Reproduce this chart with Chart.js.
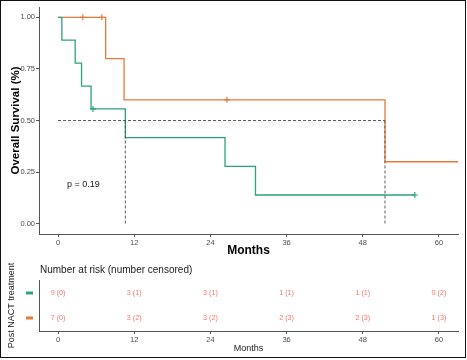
<!DOCTYPE html>
<html><head><meta charset="utf-8">
<script src="https://cdn.jsdelivr.net/npm/chart.js@4.4.1/dist/chart.umd.min.js"></script>
<style>
html,body{margin:0;padding:0;background:#fff;}
#wrap{position:relative;width:467px;height:360px;overflow:hidden;background:#fff;}
#km{position:absolute;left:0;top:0;}
#risk{position:absolute;left:0;top:260px;}
#frame{position:absolute;left:0;top:0;width:466px;height:358px;box-sizing:border-box;border:1px solid #111;pointer-events:none;}
</style></head><body>
<div id="wrap">
<canvas id="km" width="467" height="262"></canvas>
<canvas id="risk" width="467" height="100"></canvas>
<div id="frame"></div>
</div>
<script>
// ---- data ----
const xTicks = [0, 12, 24, 36, 48, 60];
const yTicks = [0, 0.25, 0.5, 0.75, 1];
const groups = ['green', 'orange'];               // strata rows of the risk table
const greenTimes = [0, 0.6, 2.7, 3.7, 5.2, 10.6, 26.3, 31.1, 56.2];
const greenSurv  = [1, 0.889, 0.778, 0.667, 0.556, 0.417, 0.278, 0.139, 0.139];
const greenCensorTimes = [5.5, 56.2];
const greenCensorSurv  = [0.556, 0.139];
const orangeTimes = [0, 7.5, 10.4, 51.5, 63];
const orangeSurv  = [1, 0.8, 0.6, 0.3, 0.3];
const orangeCensorTimes = [3.9, 6.9, 26.6];
const orangeCensorSurv  = [1, 1, 0.6];
const medianLevel = 0.5;
const medianTimes = [10.6, 51.5];
const pValueText = 'p = 0.19';
const riskTimes = [0, 12, 24, 36, 48, 60];
const greenAtRisk = [9, 3, 3, 1, 1, 0];
const greenCensored = [0, 1, 1, 1, 1, 2];
const orangeAtRisk = [7, 3, 3, 2, 2, 1];
const orangeCensored = [0, 2, 2, 3, 3, 3];

const GREEN = '#2aa37f', ORANGE = '#e97a3c', RISKTXT = '#F8766D';
const FONT = "'Liberation Sans', Arial, sans-serif";
const zip = (xs, ys) => xs.map((x, i) => ({x: x, y: ys[i]}));

// ---- KM plot ----
const pPlugin = {
  id: 'pval',
  afterDatasetsDraw(chart) {
    const {ctx, scales} = chart;
    ctx.save();
    ctx.font = '9px ' + FONT;
    ctx.fillStyle = '#1a1a1a';
    ctx.textAlign = 'center';
    ctx.textBaseline = 'middle';
    ctx.fillText(pValueText, scales.x.getPixelForValue(4), scales.y.getPixelForValue(0.19));
    ctx.restore();
  }
};

const dash = {borderColor: '#4a4a4a', borderWidth: 0.9, borderDash: [3, 2], pointRadius: 0, fill: false, type: 'line'};
new Chart(document.getElementById('km'), {
  type: 'line',
  data: {
    datasets: [
      Object.assign({data: [{x: 0, y: medianLevel}, {x: medianTimes[1], y: medianLevel}]}, dash),
      Object.assign({data: [{x: medianTimes[0], y: medianLevel}, {x: medianTimes[0], y: 0}]}, dash),
      Object.assign({data: [{x: medianTimes[1], y: medianLevel}, {x: medianTimes[1], y: 0}]}, dash),
      {type: 'scatter', data: zip(greenCensorTimes, greenCensorSurv), pointStyle: 'cross', pointRadius: 3, borderColor: GREEN, backgroundColor: GREEN, borderWidth: 1.2},
      {type: 'scatter', data: zip(orangeCensorTimes, orangeCensorSurv), pointStyle: 'cross', pointRadius: 3, borderColor: ORANGE, backgroundColor: ORANGE, borderWidth: 1.2},
      {data: zip(greenTimes, greenSurv), stepped: true, borderColor: GREEN, borderWidth: 1.3, pointRadius: 0, fill: false},
      {data: zip(orangeTimes, orangeSurv), stepped: true, borderColor: ORANGE, borderWidth: 1.3, pointRadius: 0, fill: false}
    ]
  },
  options: {
    responsive: false, animation: false, devicePixelRatio: 1,
    layout: {padding: {top: 7, right: 9, left: 0, bottom: 0}},
    plugins: {legend: {display: false}, tooltip: {enabled: false}},
    scales: {
      x: {
        type: 'linear', min: -3, max: 63,
        afterBuildTicks: s => { s.ticks = xTicks.map(v => ({value: v})); },
        afterFit: s => { s.height = 28; },
        ticks: {font: {size: 7.5, family: FONT}, color: '#4d4d4d', padding: 1, maxRotation: 0},
        grid: {display: true, drawOnChartArea: false, drawTicks: true, tickLength: 3, color: '#555'},
        border: {display: true, color: '#555', width: 1},
        title: {display: true, text: 'Months', font: {size: 12, weight: 'bold', family: FONT}, color: '#000', padding: {top: 0, bottom: 4}}
      },
      y: {
        type: 'linear', min: -0.05, max: 1.05,
        afterBuildTicks: s => { s.ticks = yTicks.map(v => ({value: v})); },
        afterFit: s => { s.width = 39; },
        ticks: {font: {size: 7.5, family: FONT}, color: '#4d4d4d', padding: 1, callback: v => Number(v).toFixed(2)},
        grid: {display: true, drawOnChartArea: false, drawTicks: true, tickLength: 3, color: '#555'},
        border: {display: true, color: '#555', width: 1},
        title: {display: true, text: 'Overall Survival (%)', font: {size: 11.5, weight: 'bold', family: FONT}, color: '#000', padding: {top: 9, bottom: 0}}
      }
    }
  },
  plugins: [pPlugin]
});

// ---- risk table ----
const riskPlugin = {
  id: 'riskText',
  afterDatasetsDraw(chart) {
    const {ctx, scales, chartArea} = chart;
    ctx.save();
    ctx.font = '10px ' + FONT;
    ctx.fillStyle = '#1a1a1a';
    ctx.textAlign = 'left';
    ctx.textBaseline = 'middle';
    ctx.fillText('Number at risk (number censored)', chartArea.left + 1, 10);
    ctx.font = '7.2px ' + FONT;
    ctx.fillStyle = RISKTXT;
    ctx.textAlign = 'center';
    chart.data.datasets.forEach((ds, di) => {
      const meta = chart.getDatasetMeta(di);
      meta.data.forEach((pt, i) => {
        ctx.fillText(ds.atRisk[i] + ' (' + ds.censored[i] + ')', pt.x, pt.y);
      });
      const yy = scales.y.getPixelForValue(di);
      ctx.fillStyle = ds.rowColor;
      ctx.fillRect(26, Math.round(yy) - 1.5, 7, 3);
      ctx.fillStyle = RISKTXT;
    });
    ctx.restore();
  }
};

new Chart(document.getElementById('risk'), {
  type: 'scatter',
  data: {
    labels: groups,
    datasets: [
      {data: riskTimes.map(t => ({x: t, y: groups[0]})), atRisk: greenAtRisk, censored: greenCensored, rowColor: GREEN, pointRadius: 0},
      {data: riskTimes.map(t => ({x: t, y: groups[1]})), atRisk: orangeAtRisk, censored: orangeCensored, rowColor: ORANGE, pointRadius: 0}
    ]
  },
  options: {
    responsive: false, animation: false, devicePixelRatio: 1,
    layout: {padding: {top: 20, right: 9, left: 0, bottom: 0}},
    plugins: {legend: {display: false}, tooltip: {enabled: false}},
    scales: {
      x: {
        type: 'linear', min: -3, max: 63,
        afterBuildTicks: s => { s.ticks = xTicks.map(v => ({value: v})); },
        afterFit: s => { s.height = 29; },
        ticks: {font: {size: 7.5, family: FONT}, color: '#4d4d4d', padding: 1, maxRotation: 0},
        grid: {display: true, drawOnChartArea: false, drawTicks: true, tickLength: 3, color: '#555'},
        border: {display: true, color: '#555', width: 1},
        title: {display: true, text: 'Months', font: {size: 9, family: FONT}, color: '#1a1a1a', padding: {top: 0, bottom: 6}}
      },
      y: {
        type: 'category', labels: groups, offset: true,
        afterFit: s => { s.width = 39; },
        ticks: {display: false},
        grid: {display: false},
        border: {display: true, color: '#555', width: 1},
        title: {display: true, text: 'Post NACT treatment', font: {size: 9, family: FONT}, color: '#1a1a1a', padding: {top: 6.5, bottom: 0}}
      }
    }
  },
  plugins: [riskPlugin]
});
</script>
</body></html>
